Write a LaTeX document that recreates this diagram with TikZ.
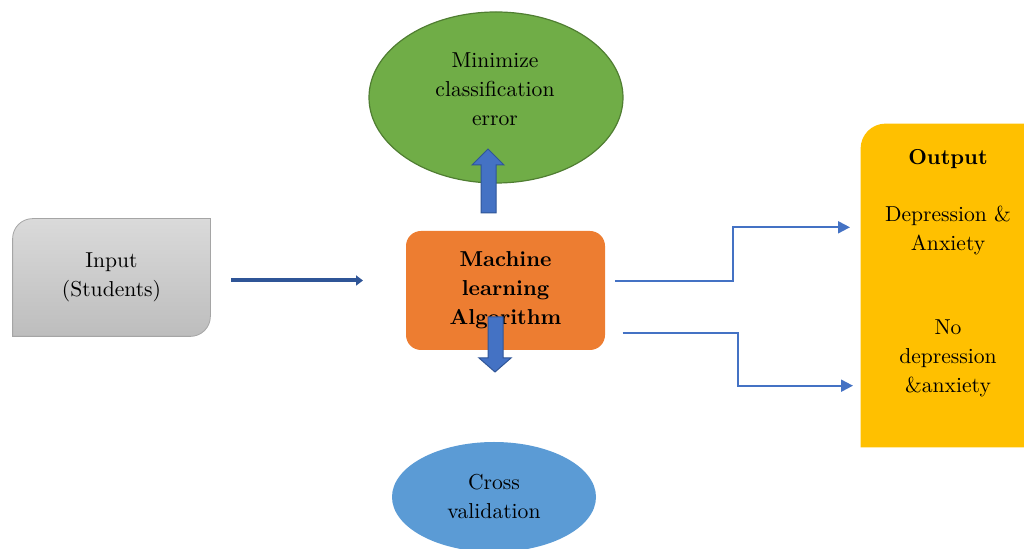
\documentclass[tikz,border=0pt]{standalone}
\usepackage{tikz}
\usetikzlibrary{arrows.meta,shapes.geometric,backgrounds}

\definecolor{inputtop}{HTML}{DADADA}
\definecolor{inputbot}{HTML}{BDBDBD}
\definecolor{inputline}{HTML}{A5A5A5}
\definecolor{mlorange}{HTML}{ED7D31}
\definecolor{goalgreen}{HTML}{70AD47}
\definecolor{goalline}{HTML}{507E32}
\definecolor{cvblue}{HTML}{5B9BD5}
\definecolor{outyellow}{HTML}{FFC000}
\definecolor{linkblue}{HTML}{4472C4}
\definecolor{arrowdark}{HTML}{2F5597}

\tikzset{
  txt/.style={align=center, inner sep=0pt, font=\fontsize{10.8}{14.5}\selectfont},
  link/.style={draw=linkblue, line width=1pt, -{Triangle[length=6pt,width=6pt]}},
  blockarrow/.style={fill=linkblue, draw=arrowdark, line width=0.5pt}
}

\begin{document}
\begin{tikzpicture}[x=0.5pt,y=-0.5pt]
	\useasboundingbox (0,0) rectangle (1024,549);
	% goal ellipse
	\node[ellipse, fill=goalgreen, draw=goalline, line width=0.6pt, inner sep=0pt,
		minimum width=127pt, minimum height=85.5pt] (goal) at (496,97.5) {};
	\node[txt] (goaltxt) at (495,89) {Minimize\\classification\\error};
	% arrow up to the goal
	\draw[blockarrow] (481,213) -- (481,165) -- (472,165) -- (488,149) -- (504,165) -- (496,165) -- (496,213) -- cycle;

	% input
	\node[txt, minimum width=98.5pt, minimum height=58.5pt] (input) at (111.5,277.5) {Input\\(Students)};
	\begin{pgfonlayer}{background}
		\path[draw=inputline, line width=0.4pt, top color=inputtop, bottom color=inputbot]
			(input.south west) -- ([yshift=-10pt]input.north west) arc[start angle=180, end angle=90, radius=10pt]
			-- (input.north east) -- ([yshift=10pt]input.south east) arc[start angle=0, end angle=-90, radius=10pt] -- cycle;
	\end{pgfonlayer}

	% machine learning
	\node[txt, font=\fontsize{10.8}{14.5}\selectfont\bfseries, fill=mlorange, rounded corners=7.5pt,
		minimum width=99.5pt, minimum height=59.5pt] (ml) at (505.5,290.5) {Machine\\learning\\Algorithm};
	\coordinate (inA) at (231,280.5);
	\coordinate (inB) at (363,280.5);
	\draw[draw=arrowdark, line width=2pt, -{Triangle[length=3.5pt,width=5pt]}] (inA) -- (inB);

	% arrow down to cross validation
	\draw[blockarrow] (488,317) -- (488,358) -- (479,358) -- (495,372) -- (511,358) -- (503,358) -- (503,317) -- cycle;

	% cross validation
	\node[txt, ellipse, fill=cvblue, minimum width=102pt, minimum height=55pt] (cv) at (494,497) {Cross\\validation};

	% output
	\node[minimum width=89.5pt, minimum height=161.5pt, inner sep=0pt] (out) at (950.5,285.5) {};
	\begin{pgfonlayer}{background}
		\fill[outyellow] (out.south west) -- ([yshift=-12.5pt]out.north west) arc[start angle=180, end angle=90, radius=12.5pt]
			-- (out.north east) -- (out.south east) -- cycle;
	\end{pgfonlayer}
	\node[txt, font=\fontsize{10.8}{14.5}\selectfont\bfseries] (outtitle) at (948,159) {Output};
	\node[txt] (dep) at (948,230.5) {Depression \&\\Anxiety};
	\node[txt] (nodep) at (948,358.5) {No\\depression\\\&anxiety};

	% links to the two outputs
	\coordinate (a1) at (615,281);
	\coordinate (b1) at (850,227.3);
	\coordinate (a2) at (622.7,332.7);
	\coordinate (b2) at (853,385.7);
	\draw[link] (a1) -- (732.7,281) |- (b1);
	\draw[link] (a2) -- (737.7,332.7) |- (b2);
\end{tikzpicture}
\end{document}
